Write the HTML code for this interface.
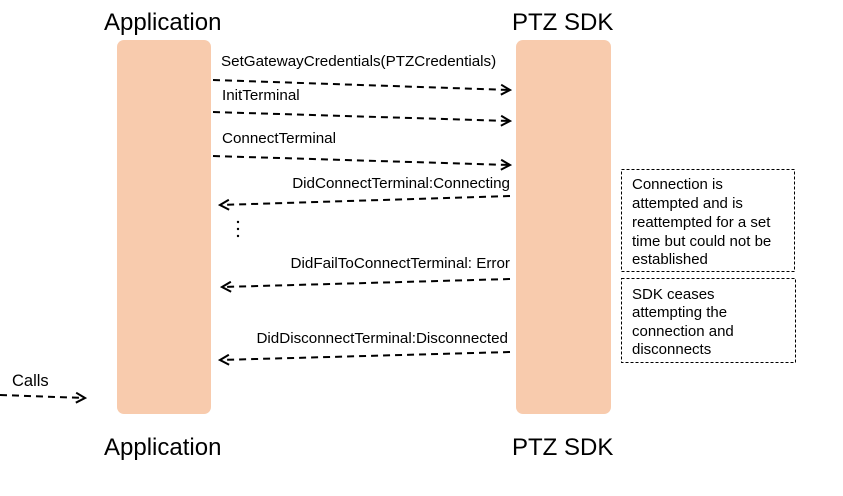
<!DOCTYPE html>
<html><head><style>body{margin:0;background:#fff}svg{display:block}</style></head><body>
<svg width="843" height="496" viewBox="0 0 843 496" xmlns="http://www.w3.org/2000/svg" font-family="Liberation Sans, Arial, sans-serif">
<defs><marker id="a" markerWidth="12" markerHeight="12" refX="10" refY="6" orient="auto" markerUnits="userSpaceOnUse"><path d="M1,1 L10,6 L1,11" fill="none" stroke="#000" stroke-width="2"/></marker></defs>
<rect x="117" y="40" width="94" height="374" rx="7" fill="#F8CBAD"/>
<rect x="516" y="40" width="95" height="374" rx="7" fill="#F8CBAD"/>
<g font-size="24" fill="#000">
<text x="104" y="30">Application</text><text x="512" y="30">PTZ SDK</text>
<text x="104" y="455">Application</text><text x="512" y="455">PTZ SDK</text>
</g>
<g stroke="#000" stroke-width="2" stroke-dasharray="7,5" fill="none" marker-end="url(#a)">
<line x1="213" y1="80" x2="510" y2="90"/>
<line x1="213" y1="112" x2="510" y2="121"/>
<line x1="213" y1="156" x2="510" y2="165"/>
<line x1="510" y1="196" x2="220" y2="205"/>
<line x1="510" y1="279" x2="222" y2="287"/>
<line x1="510" y1="352" x2="220" y2="360"/>
<line x1="0" y1="395" x2="85" y2="398"/>
</g>
<g font-size="15.2" fill="#000">
<text x="221" y="66">SetGatewayCredentials(PTZCredentials)</text>
<text x="222" y="100">InitTerminal</text>
<text x="222" y="143">ConnectTerminal</text>
<text x="510" y="188" text-anchor="end">DidConnectTerminal:Connecting</text>
<text x="510" y="268" text-anchor="end">DidFailToConnectTerminal: Error</text>
<text x="508" y="343" text-anchor="end">DidDisconnectTerminal:Disconnected</text>
<text x="12" y="386" font-size="16.5">Calls</text>
</g>
<g fill="#000"><circle cx="238" cy="222" r="1.2"/><circle cx="238" cy="229" r="1.2"/><circle cx="238" cy="236" r="1.2"/></g>
<g fill="none" stroke="#000" stroke-width="1" stroke-dasharray="3,2">
<rect x="621.5" y="169.5" width="173" height="102"/>
<rect x="621.5" y="278.5" width="174" height="84"/>
</g>
<g font-size="15" fill="#000">
<text x="632" y="189">Connection is</text>
<text x="632" y="208">attempted and is</text>
<text x="632" y="227">reattempted for a set</text>
<text x="632" y="246">time but could not be</text>
<text x="632" y="264">established</text>
<text x="632" y="299">SDK ceases</text>
<text x="632" y="317">attempting the</text>
<text x="632" y="336">connection and</text>
<text x="632" y="354">disconnects</text>
</g>
</svg>
</body></html>
